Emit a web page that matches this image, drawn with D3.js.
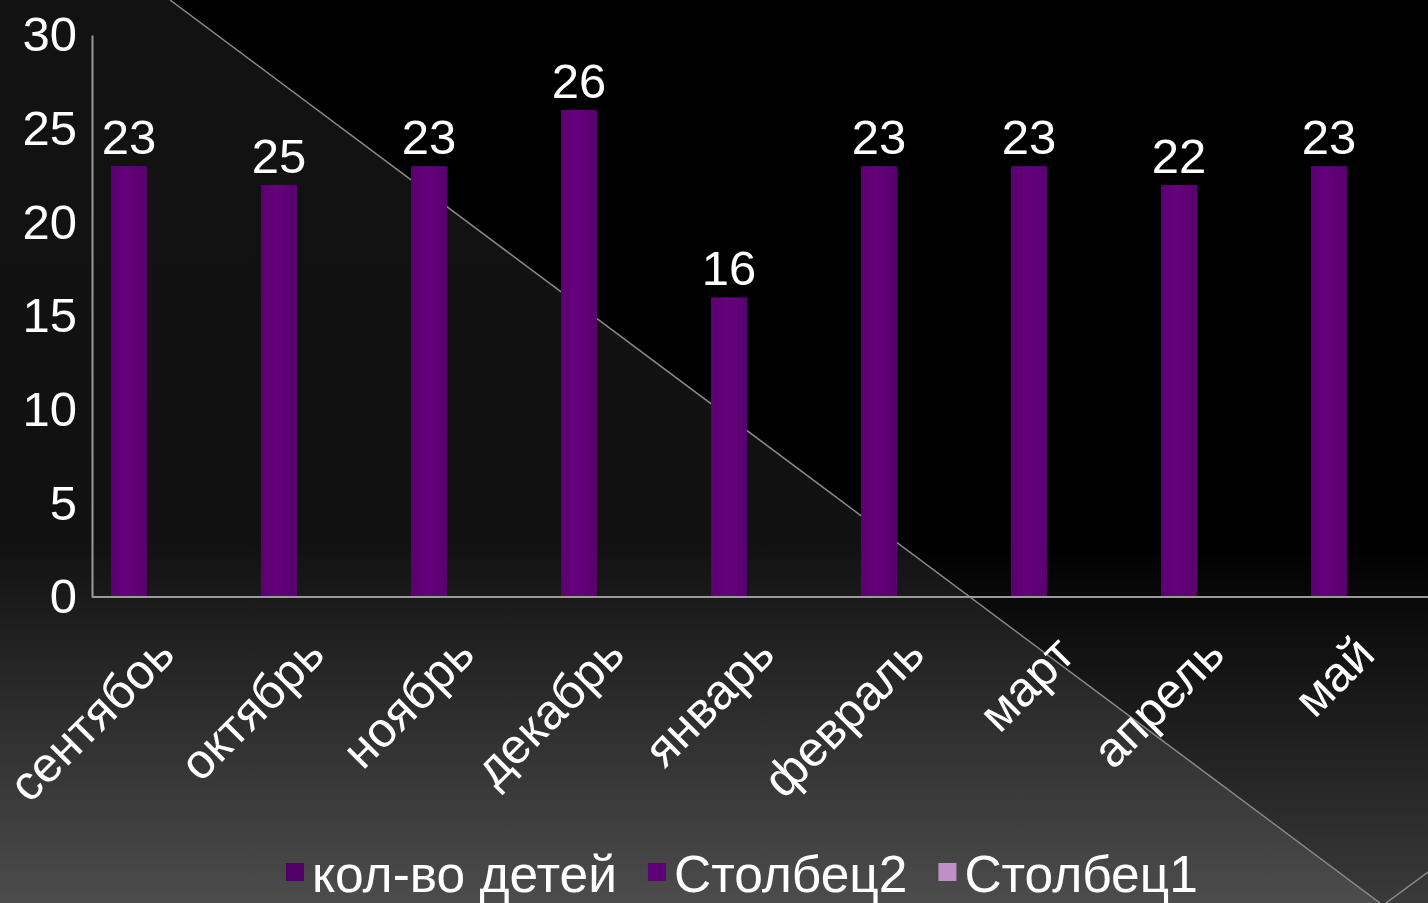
<!DOCTYPE html>
<html>
<head>
<meta charset="utf-8">
<script src="https://cdn.jsdelivr.net/npm/d3@7"></script>
<style>
  html, body { margin: 0; padding: 0; background: #000; overflow: hidden; }
  text { font-family: "Liberation Sans", Arial, sans-serif; fill: #fff; }
</style>
</head>
<body>
<div id="wrapper"></div>
<script>
// data
const months = ["сентябоь", "октябрь", "ноябрь", "декабрь", "январь", "февраль", "март", "апрель", "май"];
const children = [23, 22, 23, 26, 16, 23, 23, 22, 23];
const valueLabels = ["23", "25", "23", "26", "16", "23", "23", "22", "23"];
const yTicks = [0, 5, 10, 15, 20, 25, 30];
const legendNames = ["кол-во детей", "Столбец2", "Столбец1"];
const legendColors = ["#4e0066", "#5e0078", "#c08fc8"];

const dimension = {
    width: 1428,
    height: 903,
    margin: { top: 35, left: 92, bottom: 306, right: 0 }
};
dimension.boundedWidth = dimension.width - dimension.margin.left - dimension.margin.right;
dimension.boundedHeight = dimension.height - dimension.margin.top - dimension.margin.bottom;

const svg = d3.select("#wrapper").append("svg")
    .attr("width", dimension.width)
    .attr("height", dimension.height);

// background: two tones split by a diagonal, both fading to grey at the bottom
const defs = svg.append("defs");
const gradLeft = defs.append("linearGradient").attr("id", "bgLeft")
    .attr("x1", 0).attr("y1", 0).attr("x2", 0).attr("y2", 1);
gradLeft.append("stop").attr("offset", 0).attr("stop-color", "#121212");
gradLeft.append("stop").attr("offset", 0.6).attr("stop-color", "#111111");
gradLeft.append("stop").attr("offset", 1).attr("stop-color", "#4c4c4c");
const gradRight = defs.append("linearGradient").attr("id", "bgRight")
    .attr("x1", 0).attr("y1", 0).attr("x2", 0).attr("y2", 1);
gradRight.append("stop").attr("offset", 0).attr("stop-color", "#000000");
gradRight.append("stop").attr("offset", 0.6).attr("stop-color", "#000000");
gradRight.append("stop").attr("offset", 1).attr("stop-color", "#3a3a3a");
const barGrad = defs.append("linearGradient").attr("id", "barGrad")
    .attr("x1", 0).attr("y1", 0).attr("x2", 1).attr("y2", 0);
barGrad.append("stop").attr("offset", 0).attr("stop-color", "#5a0070");
barGrad.append("stop").attr("offset", 0.45).attr("stop-color", "#66007c");
barGrad.append("stop").attr("offset", 1).attr("stop-color", "#580070");

svg.append("rect")
    .attr("width", dimension.width).attr("height", dimension.height)
    .attr("fill", "url(#bgRight)");
svg.append("path")
    .attr("d", "M0,0 L170,0 L1380,903 L0,903 Z")
    .attr("fill", "url(#bgLeft)");
svg.append("path")
    .attr("d", "M170,0 L1380,903")
    .attr("stroke", "#8a8a8a").attr("stroke-width", 1.5).attr("fill", "none");
svg.append("path")
    .attr("d", "M1386,903 L1428,872")
    .attr("stroke", "#8a8a8a").attr("stroke-width", 1.5).attr("fill", "none");

const bounded = svg.append("g")
    .attr("transform", `translate(${dimension.margin.left}, ${dimension.margin.top})`);

// bands are 150px wide, the first one starts left of the y axis
const xScaler = d3.scaleBand()
    .domain(months)
    .range([-38, -38 + 150 * months.length]);

const yScaler = d3.scaleLinear()
    .domain([0, 30])
    .range([dimension.boundedHeight, 0]);

const barWidth = 36;

// bars
bounded.selectAll("rect.bar")
    .data(months)
    .join("rect")
    .attr("class", "bar")
    .attr("x", (d) => xScaler(d) + xScaler.bandwidth() / 2 - barWidth / 2)
    .attr("y", (d, i) => yScaler(children[i]))
    .attr("width", barWidth)
    .attr("height", (d, i) => yScaler(0) - yScaler(children[i]))
    .attr("fill", "url(#barGrad)");

// value labels
bounded.selectAll("text.value")
    .data(months)
    .join("text")
    .attr("class", "value")
    .attr("x", (d) => xScaler(d) + xScaler.bandwidth() / 2)
    .attr("y", (d, i) => yScaler(children[i]) - 12)
    .attr("text-anchor", "middle")
    .attr("font-size", 49)
    .text((d, i) => valueLabels[i]);

// y axis
const yAxis = d3.axisLeft(yScaler)
    .tickValues(yTicks)
    .tickSize(0)
    .tickPadding(15);
const yAxisG = bounded.append("g").call(yAxis);
yAxisG.select(".domain").attr("stroke", "#9a9a9a").attr("stroke-width", 2);
yAxisG.selectAll("text")
    .attr("font-size", 49)
    .attr("fill", "#fff")
    .attr("font-family", "Liberation Sans, Arial, sans-serif");

// x axis
const xAxis = d3.axisBottom(xScaler).tickSize(0).tickPadding(0);
const xAxisG = bounded.append("g")
    .attr("transform", `translate(0, ${dimension.boundedHeight})`)
    .call(xAxis);
xAxisG.select(".domain")
    .attr("d", `M0,0H${dimension.boundedWidth + 10}`)
    .attr("stroke", "#9a9a9a").attr("stroke-width", 2);
xAxisG.selectAll(".tick text")
    .attr("font-size", 49)
    .attr("fill", "#fff")
    .attr("font-family", "Liberation Sans, Arial, sans-serif")
    .attr("text-anchor", "end")
    .attr("dy", null)
    .attr("y", null)
    .attr("transform", "translate(48, 60) rotate(-45)");

// legend
const legend = svg.append("g").attr("transform", "translate(286, 892)");
let legendX = 0;
legendNames.forEach((name, i) => {
    const item = legend.append("g").attr("transform", `translate(${legendX}, 0)`);
    item.append("rect")
        .attr("x", 0).attr("y", -29)
        .attr("width", 18).attr("height", 18)
        .attr("fill", legendColors[i]);
    const t = item.append("text")
        .attr("x", 26)
        .attr("font-size", 51.5)
        .text(name);
    legendX += 26 + t.node().getComputedTextLength() + 31;
});
</script>
</body>
</html>
